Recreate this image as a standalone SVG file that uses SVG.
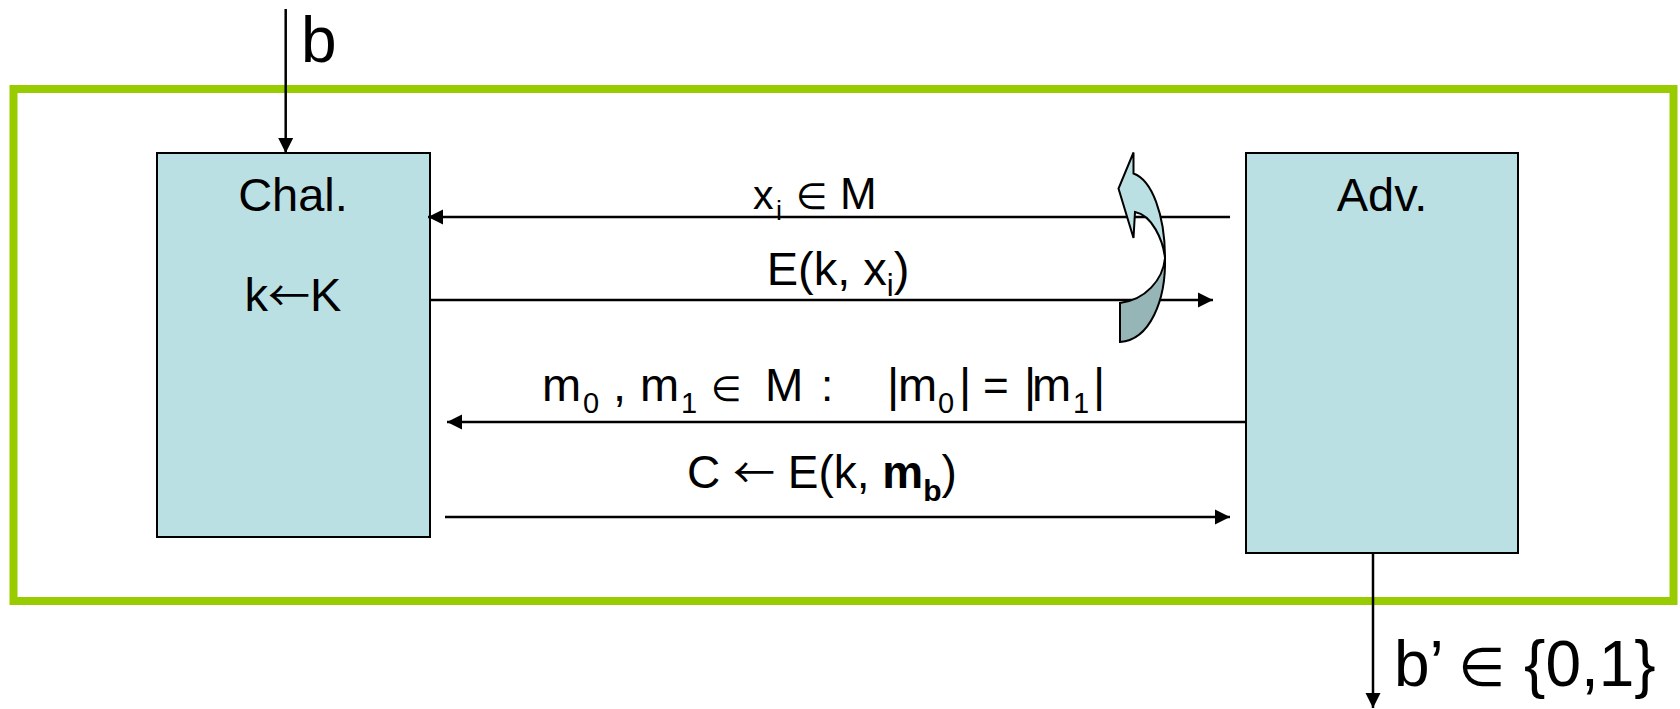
<svg xmlns="http://www.w3.org/2000/svg" width="1680" height="709" viewBox="0 0 1680 709">
<style>
text{font-family:"Liberation Sans",Arial,"DejaVu Sans",sans-serif;fill:#000}
.arr{font-family:"Noto Sans CJK JP","DejaVu Sans",sans-serif}
.box{fill:#BBE0E3;stroke:#000;stroke-width:2}
.conn{stroke:#000;stroke-width:2.5;fill:none;marker-end:url(#ah)}
.frame{fill:none;stroke:#99CC00;stroke-width:8}
.lbl{font-size:47px}
</style>
<defs>
<marker id="ah" markerUnits="userSpaceOnUse" markerWidth="16" markerHeight="16" viewBox="0 0 16 15" refX="15" refY="7.5" orient="auto">
<path d="M0,0 L15,7.5 L0,15 z" fill="#000"/>
</marker>
</defs>
<rect id="frame" class="frame" x="13.5" y="89" width="1660" height="512"/>
<g id="chal">
<rect class="box" x="157" y="153" width="273" height="384"/>
<text class="lbl" x="293" y="211" text-anchor="middle">Chal.</text>
<text class="lbl" x="293" y="311" text-anchor="middle">k<tspan class="arr" font-size="42">←</tspan>K</text>
</g>
<g id="adv">
<rect class="box" x="1246" y="153" width="272" height="400"/>
<text class="lbl" x="1382" y="211" text-anchor="middle">Adv.</text>
</g>
<g id="connectors">
<line class="conn" x1="285.7" y1="9" x2="285.7" y2="153"/>
<line class="conn" x1="1230" y1="217" x2="428" y2="217"/>
<line class="conn" x1="430" y1="300" x2="1213" y2="300"/>
<line class="conn" x1="1246" y1="422" x2="447" y2="422"/>
<line class="conn" x1="445" y1="517" x2="1230" y2="517"/>
<line class="conn" x1="1373" y1="553" x2="1373" y2="708"/>
</g>
<g id="loop">
<path d="M1133.5,152.5 L1133.5,173.5 C1152,180 1165,215 1165,258 C1163,240 1152,215 1135,212 L1133.5,238 L1118.5,188.5 Z" fill="#BBE0E3" stroke="#000" stroke-width="2" stroke-linejoin="miter"/>
<path d="M1165,258 C1166,300 1150,340 1120,342 L1120,303 C1145,300 1163,280 1165,258 Z" fill="#96B5B6" stroke="#000" stroke-width="2"/>
</g>
<g id="labels">
<text x="301" y="62" font-size="64">b</text>
<text y="209" font-size="41"><tspan x="753">x</tspan><tspan x="776" y="220" font-size="27">i</tspan><tspan x="796" y="209" font-size="36">∈</tspan><tspan x="840" y="209" font-size="44">M</tspan></text>
<text x="838" y="285" font-size="47" text-anchor="middle">E(k, x<tspan dy="11" font-size="31">i</tspan><tspan dy="-11">)</tspan></text>
<text y="401" font-size="47"><tspan x="542">m</tspan><tspan x="583" y="413" font-size="29">0</tspan><tspan x="613" y="401">,</tspan><tspan x="640">m</tspan><tspan x="681" y="413" font-size="29">1</tspan><tspan x="711" y="401" font-size="35">∈</tspan><tspan x="765" font-size="46">M</tspan><tspan x="821" font-size="44">:</tspan><tspan x="887">|</tspan><tspan x="898">m</tspan><tspan x="938" y="413" font-size="29">0</tspan><tspan x="959" y="401">|</tspan><tspan x="983" font-size="44">=</tspan><tspan x="1024">|</tspan><tspan x="1032">m</tspan><tspan x="1073" y="413" font-size="29">1</tspan><tspan x="1093" y="401">|</tspan></text>
<text x="687" y="488" font-size="46">C <tspan class="arr" font-size="42">←</tspan> E(k, <tspan font-weight="bold">m</tspan><tspan dy="13" font-weight="bold" font-size="30">b</tspan><tspan dy="-13">)</tspan></text>
<text y="686" font-size="64"><tspan x="1394">b’</tspan><tspan x="1458" font-size="54">∈</tspan><tspan x="1524">{0,1}</tspan></text>
</g>
</svg>
